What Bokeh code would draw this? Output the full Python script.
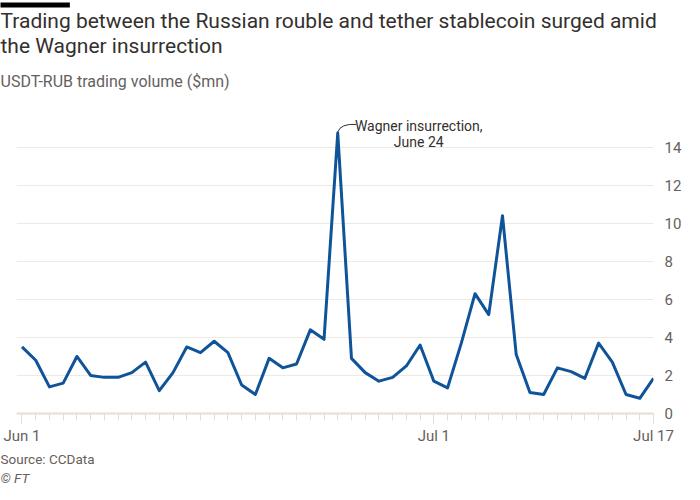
import pandas as pd
from bokeh.plotting import figure
from bokeh.models import Label, FixedTicker, Range1d, Title
from bokeh.embed import file_html
from bokeh.resources import INLINE

# ---- data ----
start_date = "2023-06-01"
end_date = "2023-07-17"
dates = pd.date_range(start_date, end_date, freq="D")
volume = [3.5, 2.8, 1.4, 1.6, 3.0, 2.0, 1.9, 1.9, 2.15, 2.7,
          1.2, 2.15, 3.5, 3.2, 3.8, 3.2, 1.5, 1.0, 2.9, 2.4,
          2.6, 4.4, 3.9, 14.75, 2.9, 2.15, 1.7, 1.9, 2.5, 3.6,
          1.7, 1.35, 3.7, 6.3, 5.2, 10.4, 3.1, 1.1, 1.0, 2.4,
          2.2, 1.85, 3.7, 2.7, 1.0, 0.8, 1.85]
x_tick_dates = ["2023-06-01", "2023-07-01", "2023-07-17"]
x_tick_labels = ["Jun 1", "Jul 1", "Jul 17"]
y_ticks = [0, 2, 4, 6, 8, 10, 12, 14]
peak_date = "2023-06-24"

title_1 = "Trading between the Russian rouble and tether stablecoin surged amid"
title_2 = "the Wagner insurrection"
subtitle = "USDT-RUB trading volume ($mn)"
note_1 = "Wagner insurrection,"
note_2 = "June 24"
source = "Source: CCData"
credit = "\u00a9 FT"

FONT = "Roboto"
DAY = 86400000.0
DARK = "#33302e"
GREY = "#66605c"


def ms(d):
    return pd.Timestamp(d).value / 1e6


W, H = 684, 484

p = figure(width=W, height=H, output_backend="svg", toolbar_location=None,
           x_axis_type="datetime", y_axis_location="right", title_location=None,
           min_border_left=16, min_border_right=0, min_border_top=0, min_border_bottom=0)
p.x_range = Range1d(ms(start_date) - 0.4 * DAY, ms(end_date))
p.y_range = Range1d(0, 16.3)
p.background_fill_color = "white"
p.border_fill_color = "white"
p.outline_line_color = None

p.line(dates, volume, line_color="#0f5499", line_width=3, line_join="round")

# annotation connector and text
pk = ms(peak_date)
pk_val = volume[list(dates).index(pd.Timestamp(peak_date))]
p.quadratic(x0=[pk], y0=[pk_val + 0.05], x1=[pk + 1.35 * DAY], y1=[15.2],
            cx=[pk + 0.2 * DAY], cy=[15.25], line_color=DARK, line_width=1)
for txt, yv in [(note_1, 15.1), (note_2, 14.25)]:
    p.add_layout(Label(x=pk + 5.9 * DAY, y=yv, text=txt, text_font=FONT,
                       text_font_size="14px", text_color=DARK,
                       text_align="center", text_baseline="alphabetic"))

# axes
xa = p.xaxis[0]
xa.ticker = FixedTicker(ticks=[ms(d) for d in x_tick_dates],
                        minor_ticks=[ms(d) for d in dates])
xa.major_label_overrides = {ms(d): t for d, t in zip(x_tick_dates, x_tick_labels)}
xa.axis_line_color = "#e6ddd6"
xa.axis_line_width = 2
xa.major_tick_line_color = "#e6ddd6"
xa.minor_tick_line_color = "#e6ddd6"
xa.major_tick_out = 10
xa.major_tick_in = 0
xa.minor_tick_out = 7
xa.minor_tick_in = 0
xa.major_label_text_color = GREY
xa.major_label_text_font = FONT
xa.major_label_text_font_size = "15px"
xa.major_label_standoff = 3

ya = p.yaxis[0]
ya.ticker = FixedTicker(ticks=y_ticks)
ya.axis_line_color = None
ya.major_tick_line_color = None
ya.minor_tick_line_color = None
ya.major_label_text_color = GREY
ya.major_label_text_font = FONT
ya.major_label_text_font_size = "15px"
ya.major_label_standoff = 5

p.xgrid.grid_line_color = None
p.ygrid.ticker = FixedTicker(ticks=y_ticks)
p.ygrid.grid_line_color = "#efe9e4"
p.ygrid.grid_line_width = 1

# titles above (first added sits nearest the plot)
p.add_layout(Title(text=subtitle, text_font=FONT, text_font_size="16px",
                   text_color=GREY, text_font_style="normal", standoff=24.5,
                   offset=-16), "above")
p.add_layout(Title(text=title_2, text_font=FONT, text_font_size="21px",
                   text_color=DARK, text_font_style="normal", standoff=-0.4,
                   offset=-16), "above")
p.add_layout(Title(text=title_1, text_font=FONT, text_font_size="21px",
                   text_color=DARK, text_font_style="normal", standoff=-2.4,
                   offset=-16), "above")
p.add_layout(Title(text="\u2003" * 17, text_font=FONT, text_font_size="4px",
                   background_fill_color="black", standoff=0,
                   offset=-16), "above")

# source below
p.add_layout(Title(text=source, text_font=FONT, text_font_size="13.5px",
                   text_color=GREY, text_font_style="normal", standoff=3,
                   offset=-16), "below")
p.add_layout(Title(text=credit, text_font=FONT, text_font_size="13.5px",
                   text_color=GREY, text_font_style="italic", standoff=-2,
                   offset=-16), "below")

open("out.html", "w").write(file_html(p, INLINE))
